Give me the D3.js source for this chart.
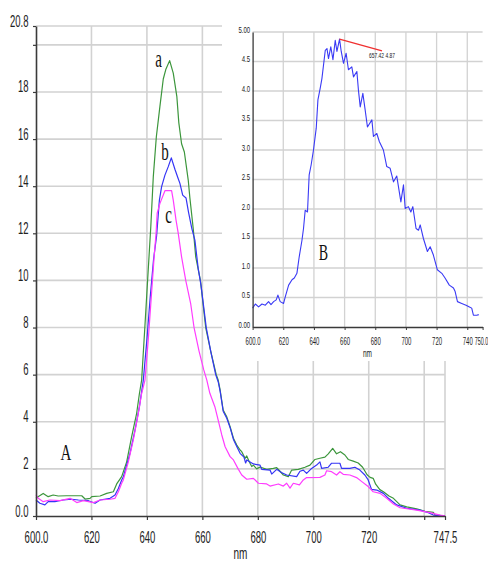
<!DOCTYPE html>
<html>
<head>
<meta charset="utf-8">
<script src="https://cdn.jsdelivr.net/npm/d3@7"></script>
<style>
  html, body { margin: 0; padding: 0; background: #fff; }
  svg { display: block; }
</style>
</head>
<body>
<svg id="chart" width="488" height="565"></svg>
<script>
// ---- Main spectra (nm, intensity) ----
const aNm  = [600.0,602.6,604.4,606.2,608,611,616.5,617.7,619.5,620.1,623.1,625.5,627.9,629.1,630.9,632.7,634.5,636.3,637.3,638.1,639.2,640.3,641.4,642.3,643.4,644.7,645.9,646.8,648.2,649.5,650.8,651.5,652.5,653.5,654.9,655.5,656.7,657.6,659.3,661.2,663,665,665.7,666.4,667.5,668.8,670,671.2,672.4,673.6,674.2,675.4,676,676.9,677.8,678.4,679.6,680.8,683.2,685.6,686.8,688,689.2,691,692.2,694.6,697,698.8,700.6,702.4,704.2,705.4,707,708.4,709.8,711.4,712.6,714.4,716.2,717.8,719.4,720.5,721.6,722.5,724,725.3,727.3,728.9,731.3,733.7,737.3,740.3,743.3,744,747.5];
const aVal = [0.76,0.96,0.82,0.89,0.85,0.86,0.86,0.72,0.75,0.82,0.85,0.96,1.03,1.36,1.67,2.3,3.37,4.36,5.2,5.77,7.9,10.1,12.28,14.4,16.1,17.4,18.55,18.95,19.33,18.8,17.8,16.7,15.8,15.45,14.26,13.5,12.2,11.0,10.0,8.0,7.0,6.0,5.77,5.35,4.5,4.21,3.79,3.3,3.01,2.8,2.73,2.45,2.55,2.3,2.1,2.16,2.0,2.08,1.98,2.02,2.05,1.9,1.74,1.67,1.95,1.98,2.07,2.16,2.4,2.45,2.5,2.64,2.87,2.64,2.73,2.59,2.4,2.33,2.25,2.07,1.75,1.64,1.6,1.35,1.12,1.03,0.85,0.75,0.47,0.39,0.3,0.2,0.15,0.04,0.01];

const bNm  = [600.0,601.4,603.2,604.4,606.8,609.8,612.9,615.3,618.9,621.3,623.1,626.7,628.5,629.7,630.9,631.5,633.9,635.7,637.3,638.7,640,641.2,642.4,643.5,644.5,645.3,646.5,647.7,648.8,650.1,651.2,651.9,652.9,654.1,655,656.2,657.3,658.5,659.5,661.4,663,664.8,665.7,666.4,667.5,668.8,670,671.2,672.4,673.6,675,675.6,676,678.4,680.8,681.4,684.4,685,686.8,688.5,690.4,694,695.2,696.4,697.6,699.4,701.2,702.4,703,705.4,706.6,709.6,710.2,713.2,715,716.8,718.6,719.8,721,722.9,725.3,727.1,730.1,733.7,738.5,741.5,743.3,747.5];
const bVal = [0.68,0.54,0.47,0.61,0.61,0.68,0.71,0.68,0.65,0.54,0.68,0.75,0.89,1.17,1.53,1.67,2.66,3.65,4.64,5.77,7.5,9.3,10.9,11.9,13.41,13.98,14.47,14.83,15.2,14.72,14.35,14.12,13.62,13.5,12.9,12.2,11.71,10.5,9.8,8.0,7.0,6.0,5.7,5.3,4.45,4.15,3.75,3.25,2.95,2.66,2.5,2.25,2.38,2.21,2.16,1.98,1.95,1.78,1.98,1.85,1.74,1.67,1.9,1.95,1.81,2.02,2.16,2.3,2.02,2.07,2.24,2.24,2.02,2.02,2.07,1.95,1.74,1.53,1.13,1.1,0.96,0.75,0.47,0.33,0.25,0.14,0.04,0.01];

const cNm  = [600.0,600.8,602.6,605,608.7,612.3,614.7,617.1,620.7,623.1,626.7,628.5,629.7,630.9,631.5,633.3,635.1,636.9,638.1,639.3,640.5,641.7,642.6,643.3,643.7,644.7,646.5,648.9,649.5,650.5,651.3,652.5,654,655.8,657,658.8,660.5,661.6,662.7,664.5,665.7,667,668.2,670,671.2,673,674.2,676,678.4,680.2,683.2,684.4,687.4,689.2,690.4,691.6,692.8,695,696.4,697.6,702.4,704.2,704.8,706.6,708.4,709.6,710.8,713.2,715.6,717.5,719.8,721.6,724.1,726.5,728.9,731.3,737.3,742.1,745.7,747.5];
const cVal = [0.9,0.75,0.61,0.68,0.65,0.75,0.57,0.65,0.57,0.68,0.71,0.75,1.03,1.39,1.53,2.3,3.23,4.36,5.2,5.77,7.5,9.5,11.0,12.0,12.85,13.27,13.81,13.81,13.41,12.56,12.0,11.0,10.0,9.0,8.0,7.0,6.2,5.77,5.21,4.64,4.07,3.44,2.94,2.52,2.38,1.98,1.74,1.56,1.6,1.39,1.36,1.27,1.36,1.27,1.39,1.18,1.39,1.32,1.53,1.63,1.64,1.74,1.92,1.88,1.74,1.88,1.77,1.74,1.63,1.46,1.25,1.03,0.96,0.75,0.51,0.35,0.25,0.14,0.04,0.01];

// ---- Inset spectrum B ----
const insetNm  = [600,601.8,603.9,606.1,608.3,610.4,612,613.7,615.4,616.5,618,620.2,621.3,623.5,625.7,627.2,628.9,630.4,632.2,633.2,634.3,635.8,636.9,638.2,639.7,641.5,642.6,644.1,645.2,647.4,648.5,649.5,651,652.4,653.9,655,656.7,657.8,659.3,661,662.5,664.7,665.8,668,669,670.2,671.9,673.4,674.9,677.8,678.8,681,682.7,685.3,687.5,689.7,691.9,694,696.7,698.4,699.5,701.6,703.2,704.5,706.6,708.2,709.3,711.4,714,715.8,717.9,720.5,723.4,725.5,728.3,731,732.1,733.6,736.4,739.2,741.4,742.9,744,746.2,747.5];
const insetVal = [0.32,0.39,0.34,0.39,0.37,0.43,0.38,0.43,0.46,0.54,0.43,0.40,0.51,0.71,0.80,0.83,0.91,1.19,1.47,1.67,1.98,1.95,2.58,2.75,3.0,3.37,3.85,4.05,4.21,4.69,4.72,4.55,4.75,4.53,4.86,4.67,4.88,4.67,4.47,4.64,4.36,4.41,4.24,4.33,4.02,3.73,3.96,3.68,3.39,3.51,3.23,3.28,3.14,3.0,2.72,2.69,2.46,2.56,2.12,2.41,2.01,2.04,1.95,2.04,1.67,1.64,1.73,1.50,1.28,1.36,1.22,0.97,0.91,0.83,0.71,0.66,0.60,0.43,0.40,0.37,0.34,0.32,0.20,0.20,0.21];

// cursor readout on the inset (start, end of marker line)
const markerNm  = [656.7, 684.4];
const markerVal = [4.88, 4.68];
const markerText = "657.42 4.87";

// ---- Axis ticks ----
const xTicks = [600, 620, 640, 660, 680, 700, 720, 740, 747.5];
const xTickLabels = ["600.0","620","640","660","680","700","720","","747.5"];
const yTicks = [0, 2, 4, 6, 8, 10, 12, 14, 16, 18, 20, 20.8];
const yTickLabels = ["0.0","2","4","6","8","10","12","14","16","18","","20.8"];

const ixTicks = [600, 620, 640, 660, 680, 700, 720, 740, 750];
const ixTickLabels = ["600.0","620","640","660","680","700","720","740","750.0"];
const iyTicks = [0, 0.5, 1, 1.5, 2, 2.5, 3, 3.5, 4, 4.5, 5];
const iyTickLabels = ["0.00","0.5","1.0","1.5","2.0","2.5","3.0","3.5","4.0","4.5","5.00"];

const seriesNames = ["a", "b", "c"];
const seriesColors = ["#3c963c", "#3535f5", "#ff3cff"];

// ---- Drawing ----
const svg = d3.select("#chart");
const sans = "'Liberation Sans', Arial, sans-serif";
const serif = "'Liberation Serif', 'Times New Roman', serif";
const gridColor = "#d2d2d2";
const axisColor = "#3a3a3a";
const textColor = "#222";

const x = d3.scaleLinear().domain([600, 747.5]).range([36, 445]);
const y = d3.scaleLinear().domain([0, 20.8]).range([516, 26]);

// main grid
const mg = svg.append("g");
mg.selectAll("line.h").data(yTicks.filter(d => d > 0)).join("line")
  .attr("x1", x(600)).attr("x2", x(747.5))
  .attr("y1", d => y(d)).attr("y2", d => y(d))
  .attr("stroke", gridColor).attr("stroke-width", 1.6);
mg.selectAll("line.v").data(xTicks.filter(d => d > 600)).join("line")
  .attr("x1", d => x(d)).attr("x2", d => x(d))
  .attr("y1", y(20.8)).attr("y2", y(0))
  .attr("stroke", gridColor).attr("stroke-width", 1.6);

// main curves
const mainData = [
  aNm.map((n, i) => [n, aVal[i]]),
  bNm.map((n, i) => [n, bVal[i]]),
  cNm.map((n, i) => [n, cVal[i]])
];
const line = d3.line().x(d => x(d[0])).y(d => y(d[1]));
svg.append("g").selectAll("path").data(mainData).join("path")
  .attr("d", line)
  .attr("fill", "none")
  .attr("stroke", (d, i) => seriesColors[i])
  .attr("stroke-width", 1.2)
  .attr("stroke-linejoin", "round");

// main axes
const xAxis = svg.append("g").attr("transform", `translate(0,${y(0)})`)
  .call(d3.axisBottom(x).tickValues(xTicks).tickFormat((d, i) => xTickLabels[i]).tickSize(4).tickSizeOuter(0));
const yAxis = svg.append("g").attr("transform", `translate(${x(600)},0)`)
  .call(d3.axisLeft(y).tickValues(yTicks).tickFormat((d, i) => yTickLabels[i]).tickSize(3).tickSizeOuter(0));
[xAxis, yAxis].forEach(g => {
  g.select(".domain").attr("stroke", axisColor).attr("stroke-width", 1.6);
  g.selectAll(".tick line").attr("stroke", axisColor).attr("stroke-width", 1.2);
  g.selectAll(".tick text").attr("fill", textColor).style("font-family", sans).style("font-size", "9.5px");
});
xAxis.selectAll(".tick text").attr("y", null).attr("dy", null)
  .attr("transform", "translate(0,27) scale(1,1.8)");
yAxis.selectAll(".tick text").attr("x", null).attr("dy", null)
  .attr("text-anchor", "end")
  .attr("transform", "translate(-7.5,0) scale(1,1.8)");

svg.append("text").text("nm")
  .attr("transform", `translate(${(x(600) + x(747.5)) / 2},559) scale(1,1.6)`)
  .attr("text-anchor", "middle").attr("fill", textColor)
  .style("font-family", sans).style("font-size", "10px");

// curve letters
const letterPos = [[158.5, 66.5], [165, 160], [168.5, 222.5]];
seriesNames.forEach((s, i) => {
  svg.append("text").text(s)
    .attr("transform", `translate(${letterPos[i][0]},${letterPos[i][1]}) scale(1,1.65)`)
    .attr("text-anchor", "middle").attr("fill", "#111")
    .style("font-family", serif).style("font-size", "15px");
});
svg.append("text").text("A")
  .attr("transform", "translate(66,460) scale(1,1.6)")
  .attr("text-anchor", "middle").attr("fill", "#111")
  .style("font-family", serif).style("font-size", "15px");

// ---- Inset ----
const xi = d3.scaleLinear().domain([600, 750]).range([252.6, 482.6]);
const yi = d3.scaleLinear().domain([0, 5]).range([327, 32]);

svg.append("rect").attr("x", 222).attr("y", 0).attr("width", 266).attr("height", 361).attr("fill", "#fff");

const ig = svg.append("g");
ig.selectAll("line.h").data(iyTicks.filter(d => d > 0)).join("line")
  .attr("x1", xi(600)).attr("x2", xi(750))
  .attr("y1", d => yi(d)).attr("y2", d => yi(d))
  .attr("stroke", gridColor).attr("stroke-width", 1.3);
ig.selectAll("line.v").data(ixTicks.filter(d => d > 600 && d < 750)).join("line")
  .attr("x1", d => xi(d)).attr("x2", d => xi(d))
  .attr("y1", yi(5)).attr("y2", yi(0))
  .attr("stroke", gridColor).attr("stroke-width", 1.3);

const insetData = insetNm.map((n, i) => [n, insetVal[i]]);
svg.append("path").datum(insetData)
  .attr("d", d3.line().x(d => xi(d[0])).y(d => yi(d[1])))
  .attr("fill", "none").attr("stroke", "#3a3af5").attr("stroke-width", 1.1)
  .attr("stroke-linejoin", "round");

const ixAxis = svg.append("g").attr("transform", `translate(0,${yi(0)})`)
  .call(d3.axisBottom(xi).tickValues(ixTicks).tickFormat((d, i) => ixTickLabels[i]).tickSize(3).tickSizeOuter(0));
const iyAxis = svg.append("g").attr("transform", `translate(${xi(600)},0)`)
  .call(d3.axisLeft(yi).tickValues(iyTicks).tickFormat((d, i) => iyTickLabels[i]).tickSize(0).tickSizeOuter(0));
[ixAxis, iyAxis].forEach(g => {
  g.select(".domain").attr("stroke", axisColor).attr("stroke-width", 1.3);
  g.selectAll(".tick line").attr("stroke", axisColor).attr("stroke-width", 1);
  g.selectAll(".tick text").attr("fill", textColor).style("font-family", sans).style("font-size", "6px");
});
ixAxis.selectAll(".tick text").attr("y", null).attr("dy", null)
  .attr("transform", "translate(0,18) scale(1,1.75)");
// last inset label kept inside the page edge
ixAxis.selectAll(".tick text").filter(d => d === 750)
  .attr("text-anchor", "end")
  .style("font-size", "5.4px")
  .attr("transform", "translate(5.2,18) scale(1,1.9)");
iyAxis.selectAll(".tick text").attr("x", null).attr("dy", null)
  .attr("text-anchor", "end")
  .attr("transform", "translate(-2.5,0) scale(1,1.6)");

svg.append("text").text("nm")
  .attr("transform", "translate(367.5,357) scale(1,1.7)")
  .attr("text-anchor", "middle").attr("fill", textColor)
  .style("font-family", sans).style("font-size", "6.5px");

svg.append("text").text("B")
  .attr("transform", "translate(323.5,260) scale(1,1.6)")
  .attr("text-anchor", "middle").attr("fill", "#111")
  .style("font-family", serif).style("font-size", "14px");

// cursor marker
svg.append("line")
  .attr("x1", xi(markerNm[0])).attr("y1", yi(markerVal[0]))
  .attr("x2", xi(markerNm[1])).attr("y2", yi(markerVal[1]))
  .attr("stroke", "#f03030").attr("stroke-width", 1.3);
svg.append("text").text(markerText)
  .attr("transform", "translate(382,58) scale(1,1.6)")
  .attr("text-anchor", "middle").attr("fill", textColor)
  .attr("textLength", 26).attr("lengthAdjust", "spacingAndGlyphs")
  .style("font-family", sans).style("font-size", "5px");
</script>
</body>
</html>
